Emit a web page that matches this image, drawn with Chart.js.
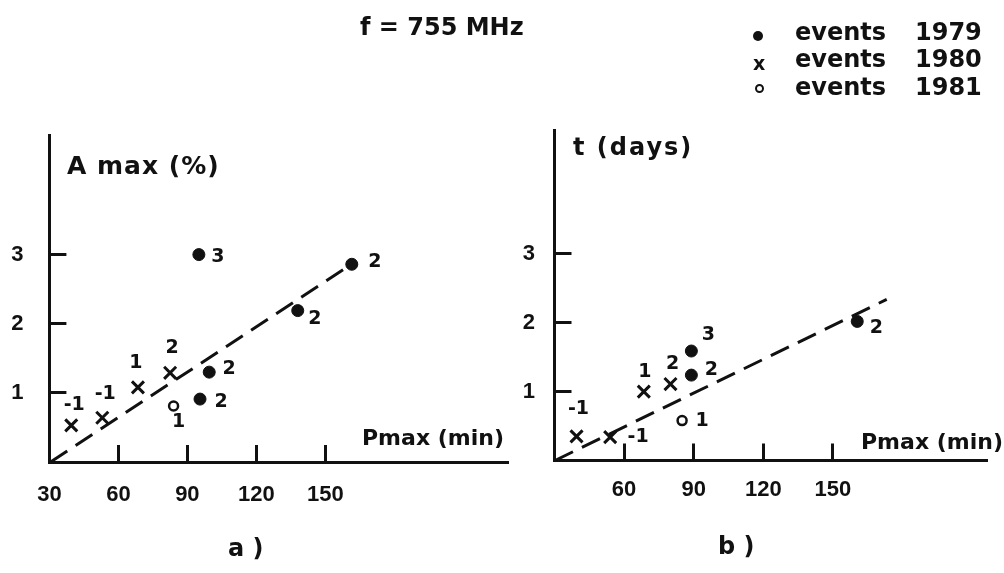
<!DOCTYPE html>
<html>
<head>
<meta charset="utf-8">
<script src="https://cdn.jsdelivr.net/npm/chart.js@4.4.1/dist/chart.umd.min.js"></script>
<style>
  html, body { margin: 0; padding: 0; background: #fff; }
  #page { position: relative; width: 1004px; height: 573px; overflow: hidden; font-family: "DejaVu Sans", sans-serif; color: #111; }
  canvas { position: absolute; top: 0; }
  .txt { position: absolute; white-space: pre; line-height: 1; font-weight: bold; }
  .mark { position: absolute; border-radius: 50%; box-sizing: border-box; }
</style>
</head>
<body>
<div id="page">
  <canvas id="chartA" width="520" height="573" style="left:0"></canvas>
  <canvas id="chartB" width="494" height="573" style="left:510px"></canvas>

  <div class="txt" style="left:360px;top:15px;font-size:24px">f = 755 MHz</div>

  <div class="mark" style="left:753px;top:31px;width:10px;height:10px;background:#111"></div>
  <div class="txt" style="left:753px;top:54px;font-size:19px">x</div>
  <div class="mark" style="left:755px;top:84px;width:9px;height:9px;border:2.5px solid #111"></div>
  <div class="txt" style="left:795px;top:20px;font-size:24px">events</div>
  <div class="txt" style="left:915px;top:20px;font-size:24px">1979</div>
  <div class="txt" style="left:795px;top:47px;font-size:24px">events</div>
  <div class="txt" style="left:915px;top:47px;font-size:24px">1980</div>
  <div class="txt" style="left:795px;top:75px;font-size:24px">events</div>
  <div class="txt" style="left:915px;top:75px;font-size:24px">1981</div>

  <div class="txt" style="left:67px;top:153px;font-size:25px;letter-spacing:1px">A max (%)</div>
  <div class="txt" style="left:362px;top:427px;font-size:22px">Pmax (min)</div>
  <div class="txt" style="left:573px;top:135px;font-size:24px;letter-spacing:2px">t (days)</div>
  <div class="txt" style="left:861px;top:431px;font-size:22px">Pmax (min)</div>

  <div class="txt" style="left:228px;top:536px;font-size:24px">a )</div>
  <div class="txt" style="left:718px;top:534px;font-size:24px">b )</div>
</div>
<script>
// shared ticks
const yTicks = [1, 2, 3];
const xTicksA = [30, 60, 90, 120, 150];
const xTicksB = [60, 90, 120, 150];

// a) A max (%) against P max (min)
const a1979P = [95, 161.5, 138, 99.5, 95.5];
const a1979A = [3.0, 2.86, 2.19, 1.30, 0.91];
const a1979Num = ["3", "2", "2", "2", "2"];
const a1980P = [39.5, 53, 68.5, 82.5];
const a1980A = [0.53, 0.64, 1.08, 1.29];
const a1980Num = ["-1", "-1", "1", "2"];
const a1981P = [84];
const a1981A = [0.81];
const a1981Num = ["1"];
const aFitP = [30.5, 159.5];
const aFitA = [0, 2.82];

// b) t (days) against P max (min)
const b1979P = [89, 89, 160.5];
const b1979T = [1.59, 1.24, 2.02];
const b1979Num = ["3", "2", "2"];
const b1980P = [39.5, 54, 68.5, 80];
const b1980T = [0.35, 0.34, 1.0, 1.11];
const b1980Num = ["-1", "-1", "1", "2"];
const b1981P = [85];
const b1981T = [0.58];
const b1981Num = ["1"];
const bFitP = [30.2, 173.2];
const bFitT = [0, 2.34];

const ink = "#111";

function toXY(xs, ys) {
  return xs.map((x, i) => ({ x: x, y: ys[i] }));
}

// writes the little event numbers next to each mark
const eventNumbers = {
  id: "eventNumbers",
  afterDatasetsDraw(chart) {
    const ctx = chart.ctx;
    ctx.save();
    ctx.fillStyle = ink;
    ctx.font = 'bold 19px "DejaVu Sans"';
    ctx.textAlign = "center";
    ctx.textBaseline = "middle";
    chart.data.datasets.forEach((ds, i) => {
      if (!ds.numbers) return;
      chart.getDatasetMeta(i).data.forEach((pt, j) => {
        const s = ds.shifts[j];
        ctx.fillText(ds.numbers[j], pt.x + s[0], pt.y + s[1]);
      });
    });
    ctx.restore();
  }
};

function axis(min, max, ticks, boxSize, pad, horizontal) {
  return {
    type: "linear",
    min: min,
    max: max,
    bounds: "data",
    afterBuildTicks: s => { s.ticks = ticks.map(v => ({ value: v })); },
    afterFit: s => { if (horizontal) s.height = boxSize; else s.width = boxSize; },
    border: { display: true, color: ink, width: 3 },
    grid: { drawOnChartArea: false, drawTicks: true, tickLength: -17, color: ink, lineWidth: 3 },
    ticks: {
      color: ink,
      padding: pad,
      maxRotation: 0,
      autoSkip: false,
      font: { family: "Liberation Sans", size: 22, weight: "bold" }
    }
  };
}

function panel(id, p) {
  return new Chart(document.getElementById(id), {
    type: "scatter",
    data: {
      datasets: [
        {
          label: "events 1979",
          data: toXY(p.p79, p.v79),
          pointStyle: "circle",
          pointRadius: 6,
          backgroundColor: ink,
          borderColor: ink,
          numbers: p.n79,
          shifts: p.s79
        },
        {
          label: "events 1980",
          data: toXY(p.p80, p.v80),
          pointStyle: "crossRot",
          pointRadius: 8.5,
          borderWidth: 3,
          borderColor: ink,
          numbers: p.n80,
          shifts: p.s80
        },
        {
          label: "events 1981",
          data: toXY(p.p81, p.v81),
          pointStyle: "circle",
          pointRadius: 4.5,
          borderWidth: 2.5,
          backgroundColor: "#fff",
          borderColor: ink,
          numbers: p.n81,
          shifts: p.s81
        },
        {
          label: "fit",
          data: toXY(p.fitP, p.fitV),
          showLine: true,
          borderColor: ink,
          borderWidth: 3,
          borderDash: [20, 10],
          pointRadius: 0
        }
      ]
    },
    options: {
      responsive: false,
      animation: false,
      layout: { padding: { top: p.top, left: 0, right: p.right, bottom: 0 } },
      plugins: { legend: { display: false }, tooltip: { enabled: false } },
      scales: {
        x: axis(30, p.xMax, p.xTicks, p.xBox, p.xPad, true),
        y: axis(0, p.yMax, yTicks, p.yBox, p.yPad, false)
      }
    },
    plugins: [eventNumbers]
  });
}

panel("chartA", {
  p79: a1979P, v79: a1979A, n79: a1979Num,
  s79: [[19, 2], [23, -2], [17, 8], [20, -3], [21, 3]],
  p80: a1980P, v80: a1980A, n80: a1980Num,
  s80: [[3, -20], [3, -24], [-2, -24], [2, -25]],
  p81: a1981P, v81: a1981A, n81: a1981Num,
  s81: [[5, 16]],
  fitP: aFitP, fitV: aFitA,
  xTicks: xTicksA, xMax: 229, yMax: 4.73,
  top: 135, right: 13, xBox: 111, yBox: 49.4, xPad: 37, yPad: 43
});

panel("chartB", {
  p79: b1979P, v79: b1979T, n79: b1979Num,
  s79: [[17, -16], [20, -5], [19, 7]],
  p80: b1980P, v80: b1980T, n80: b1980Num,
  s80: [[2, -27], [28, 0], [1, -20], [2, -20]],
  p81: b1981P, v81: b1981T, n81: b1981Num,
  s81: [[20, 0]],
  fitP: bFitP, fitV: bFitT,
  xTicks: xTicksB, xMax: 216.3, yMax: 4.8,
  top: 130, right: 17.3, xBox: 112.5, yBox: 44.5, xPad: 33, yPad: 36.5
});
</script>
</body>
</html>
